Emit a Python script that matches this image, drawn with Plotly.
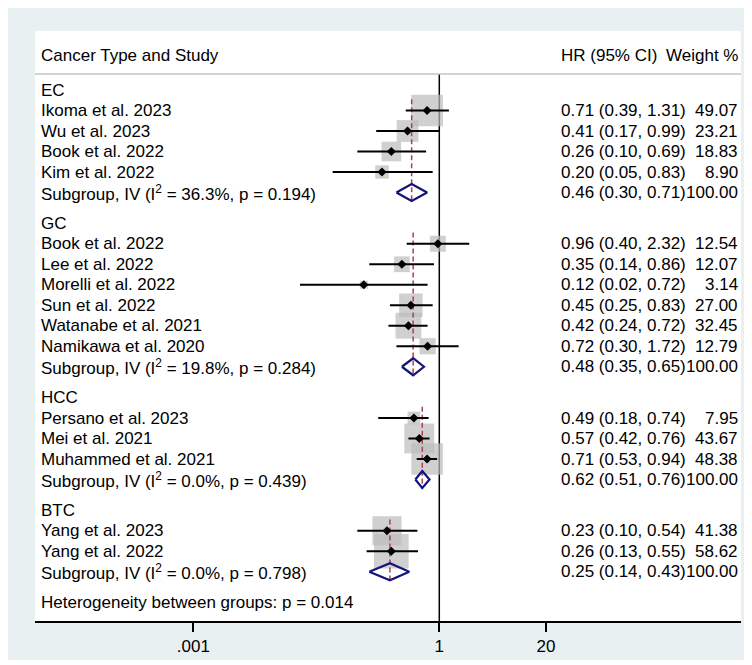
import plotly.graph_objects as go
import math

# ---------------- data ----------------
groups = ["EC", "GC", "HCC", "BTC"]
studies = [
    ["Ikoma et al. 2023", "Wu et al. 2023", "Book et al. 2022", "Kim et al. 2022"],
    ["Book et al. 2022", "Lee et al. 2022", "Morelli et al. 2022", "Sun et al. 2022",
     "Watanabe et al. 2021", "Namikawa et al. 2020"],
    ["Persano et al. 2023", "Mei et al. 2021", "Muhammed et al. 2021"],
    ["Yang et al. 2023", "Yang et al. 2022"],
]
hr = [[0.71, 0.41, 0.26, 0.20],
      [0.96, 0.35, 0.12, 0.45, 0.42, 0.72],
      [0.49, 0.57, 0.71],
      [0.23, 0.26]]
lo = [[0.39, 0.17, 0.10, 0.05],
      [0.40, 0.14, 0.02, 0.25, 0.24, 0.30],
      [0.18, 0.42, 0.53],
      [0.10, 0.13]]
hi = [[1.31, 0.99, 0.69, 0.83],
      [2.32, 0.86, 0.72, 0.83, 0.72, 1.72],
      [0.74, 0.76, 0.94],
      [0.54, 0.55]]
weights = [[49.07, 23.21, 18.83, 8.90],
           [12.54, 12.07, 3.14, 27.00, 32.45, 12.79],
           [7.95, 43.67, 48.38],
           [41.38, 58.62]]
sub_hr = [0.46, 0.48, 0.62, 0.25]
sub_lo = [0.30, 0.35, 0.51, 0.14]
sub_hi = [0.71, 0.65, 0.76, 0.43]
sub_i2 = ["36.3%", "19.8%", "0.0%", "0.0%"]
sub_p = ["0.194", "0.284", "0.439", "0.798"]
het_p = "0.014"
tick_vals = [0.001, 1, 20]
tick_text = [".001", "1", "20"]

# ---------------- geometry (screen px; page body margin = 8px) ----------------
OFF = 8
W, H = 744, 652
ROW0_PX, PITCH = 90.0, 20.5
PLOT_L, PLOT_R, PLOT_T, PLOT_B = 35, 741, 31, 621
ONE_PX, DECADE = 439.3, 82.0
GAP = 0.5
PAD = 2.0  # annotation border + pad


def px_x(sx):
    return (sx - OFF) / W


def px_y(sy):
    return 1 - (sy - OFF) / H


x_rng = [(PLOT_L - ONE_PX) / DECADE, (PLOT_R - ONE_PX) / DECADE]
y_top = (PLOT_T - ROW0_PX) / PITCH
y_bot = (PLOT_B - ROW0_PX) / PITCH
header_pos = (55 - ROW0_PX) / PITCH
hline_pos = (74 - ROW0_PX) / PITCH

FONT = "Liberation Sans, Arial, sans-serif"
FS = 17
X_LEFT = px_x(40.7 - PAD)
X_HR = px_x(561 - PAD)
X_WT = px_x(737.5 + PAD)

fig = go.Figure()
ann = []


def add_text(txt, x, pos, anchor):
    ann.append(dict(x=x, y=pos, xref="paper", yref="y", text=txt,
                    showarrow=False, xanchor=anchor, yanchor="middle",
                    font=dict(family=FONT, size=FS, color="black")))


box_x, box_y, box_s = [], [], []
ci_x, ci_y = [], []
pt_x, pt_y = [], []
dash_traces = []
dia_x, dia_y = [], []

pos = 0.0
for g in range(len(groups)):
    add_text(groups[g], X_LEFT, pos, "left")
    pos += 1
    first = pos
    for s in range(len(studies[g])):
        add_text(studies[g][s], X_LEFT, pos, "left")
        add_text(f"{hr[g][s]:.2f} ({lo[g][s]:.2f}, {hi[g][s]:.2f})", X_HR, pos, "left")
        add_text(f"{weights[g][s]:.2f}", X_WT, pos, "right")
        box_x.append(hr[g][s]); box_y.append(pos)
        box_s.append(4.525 * math.sqrt(weights[g][s]))
        ci_x += [lo[g][s], hi[g][s], None]; ci_y += [pos, pos, None]
        pt_x.append(hr[g][s]); pt_y.append(pos)
        pos += 1
    add_text(f"Subgroup, IV (I<sup>2</sup> = {sub_i2[g]}, p = {sub_p[g]})", X_LEFT, pos, "left")
    add_text(f"{sub_hr[g]:.2f} ({sub_lo[g]:.2f}, {sub_hi[g]:.2f})", X_HR, pos, "left")
    add_text("100.00", X_WT, pos, "right")
    dash_traces.append(([sub_hr[g], sub_hr[g]], [first - 0.55, pos + 0.45]))
    h = 8.5 / PITCH
    dia_x += [sub_lo[g], sub_hr[g], sub_hi[g], sub_hr[g], sub_lo[g], None]
    dia_y += [pos, pos - h, pos, pos + h, pos, None]
    pos += 1 + GAP

add_text(f"Heterogeneity between groups: p = {het_p}", X_LEFT, pos, "left")

# header
add_text("Cancer Type and Study", X_LEFT, header_pos, "left")
add_text("HR (95% CI)", X_HR, header_pos, "left")
add_text("Weight %", X_WT, header_pos, "right")

# null line at 1
fig.add_trace(go.Scatter(x=[1, 1], y=[hline_pos, y_bot], mode="lines",
                         line=dict(color="black", width=1.5), hoverinfo="skip"))
# weight boxes
fig.add_trace(go.Scatter(x=box_x, y=box_y, mode="markers",
                         marker=dict(symbol="square", size=box_s, color="#bcbcbc",
                                     line=dict(width=0)), hoverinfo="skip"))
# pooled dashed lines
for xs, ys in dash_traces:
    fig.add_trace(go.Scatter(x=xs, y=ys, mode="lines",
                             line=dict(color="#b0404c", width=1.5, dash="5px,3px"),
                             hoverinfo="skip"))
# CI lines
fig.add_trace(go.Scatter(x=ci_x, y=ci_y, mode="lines",
                         line=dict(color="black", width=2), hoverinfo="skip"))
# point estimates
fig.add_trace(go.Scatter(x=pt_x, y=pt_y, mode="markers",
                         marker=dict(symbol="diamond", size=7, color="black",
                                     line=dict(width=0)), hoverinfo="skip"))
# subgroup diamonds
fig.add_trace(go.Scatter(x=dia_x, y=dia_y, mode="lines",
                         line=dict(color="#14147a", width=2.2), hoverinfo="skip"))

shapes = [
    dict(type="rect", xref="paper", yref="paper", x0=px_x(PLOT_L), x1=px_x(PLOT_R),
         y0=px_y(PLOT_B), y1=px_y(PLOT_T), fillcolor="white", line=dict(width=0), layer="below"),
    dict(type="line", xref="paper", yref="y", x0=px_x(PLOT_L), x1=px_x(PLOT_R),
         y0=hline_pos, y1=hline_pos, line=dict(color="#c4c4c4", width=1.5)),
]

fig.update_layout(
    width=W, height=H, margin=dict(l=0, r=0, t=0, b=0),
    paper_bgcolor="#e8f0f2", plot_bgcolor="rgba(0,0,0,0)",
    showlegend=False, hovermode=False,
    annotations=ann, shapes=shapes,
    xaxis=dict(type="log", range=x_rng, domain=[px_x(PLOT_L), px_x(PLOT_R)],
               tickvals=tick_vals, ticktext=tick_text, ticks="outside", ticklen=9,
               tickwidth=1.5, tickcolor="black", showline=True, linecolor="black",
               linewidth=1.5, showgrid=False, zeroline=False,
               tickfont=dict(family=FONT, size=FS, color="black")),
    yaxis=dict(range=[y_bot, y_top], domain=[px_y(PLOT_B), px_y(PLOT_T)],
               visible=False, showgrid=False, zeroline=False),
)

fig.write_html("out.html")
